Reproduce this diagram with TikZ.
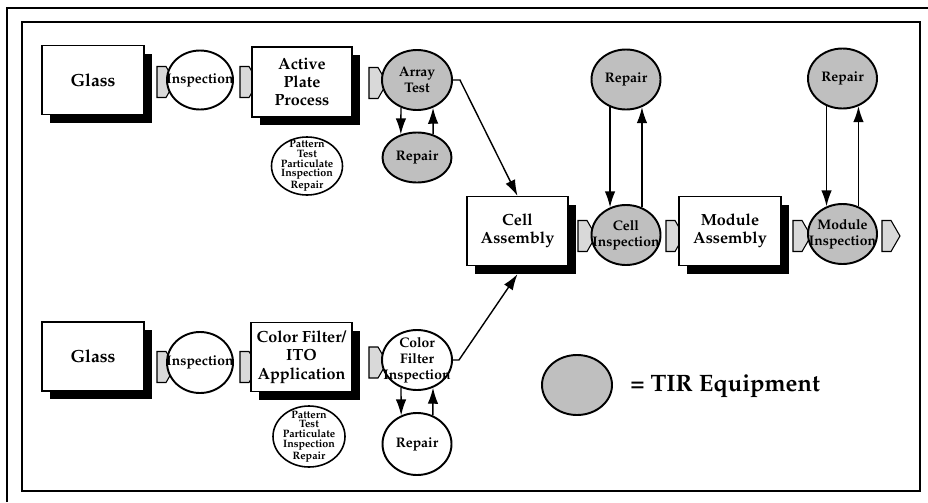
\documentclass[tikz,border=0pt]{standalone}
\usepackage[T1]{fontenc}
\renewcommand{\rmdefault}{ppl}
\usetikzlibrary{shapes.geometric,shapes.symbols,shadows,arrows.meta}
\tikzstyle{box}=[rectangle,draw,fill=white,line width=0.7pt,minimum width=2.04cm,minimum height=1.38cm,inner sep=0pt,align=center,font=\fontsize{9.2}{10.4}\selectfont\bfseries,drop shadow={shadow xshift=0.16cm,shadow yshift=-0.16cm,fill=black,opacity=1}]
\tikzstyle{tir}=[ellipse,draw,line width=1.1pt,fill=gray!50,minimum width=1.38cm,minimum height=1.20cm,inner sep=0pt]
\tikzstyle{plain}=[ellipse,draw,line width=1.1pt,fill=white,minimum width=1.38cm,minimum height=1.20cm,inner sep=0pt]
\tikzstyle{chevron}=[signal,signal to=east,signal pointer angle=120,draw,fill=gray!30,line width=0.6pt,minimum width=0.36cm,minimum height=0.62cm,inner sep=0pt]
\tikzstyle{etext}=[font=\fontsize{7.9}{9}\selectfont\bfseries,align=center,inner sep=0pt]
\tikzstyle{ttext}=[font=\fontsize{6.1}{5.5}\selectfont\bfseries,align=center,inner sep=0pt]
\tikzstyle{edge}=[draw,line width=0.8pt,-{Latex[length=3.2mm,width=2.1mm]}]

\begin{document}
\begin{tikzpicture}
        \useasboundingbox (0,0) rectangle (18.56,-10.04);
        % frames
        \draw[line width=0.8pt] (0.14,-10.04) -- (0.14,-0.16) -- (18.56,-0.16);
        \draw[line width=0.8pt] (0.44,-0.44) rectangle (18.40,-9.82);
        % active plate line
        \node[box,font=\fontsize{10}{11}\selectfont\bfseries] (g1) at (1.86,-1.60) {Glass};
        \node[chevron] (c1) at (3.23,-1.64) {};
        \node[plain,minimum width=1.32cm,minimum height=1.18cm,label={[etext]center:Inspection}] (i1) at (4.00,-1.60) {};
        \node[chevron] (c2) at (4.89,-1.64) {};
        \node[box,minimum width=2.00cm,minimum height=1.40cm] (p1) at (6.04,-1.64) {Active\\Plate\\Process};
        \node[plain,line width=0.9pt,minimum width=1.42cm,minimum height=1.16cm,label={[ttext]center:Pattern\\Test\\Particulate\\Inspection\\Repair}] (t1) at (6.14,-3.32) {};
        \node[chevron] (c3) at (7.47,-1.66) {};
        \node[tir,minimum width=1.40cm,label={[etext]center:Array\\Test}] (a1) at (8.34,-1.60) {};
        \node[tir,minimum height=1.00cm,label={[etext]center:Repair}] (r1) at (8.34,-3.15) {};
        % color filter line
        \node[box,font=\fontsize{10}{11}\selectfont\bfseries] (g2) at (1.86,-7.13) {Glass};
        \node[chevron] (c8) at (3.23,-7.34) {};
        \node[plain,minimum width=1.32cm,minimum height=1.22cm,label={[etext]center:Inspection}] (i2) at (4.00,-7.25) {};
        \node[chevron] (c9) at (4.89,-7.34) {};
        \node[box,minimum width=2.02cm] (p2) at (6.03,-7.14) {Color Filter/\\ITO\\Application};
        \node[plain,line width=0.9pt,minimum width=1.44cm,minimum height=1.22cm,label={[ttext]center:Pattern\\Test\\Particulate\\Inspection\\Repair}] (t2) at (6.18,-8.73) {};
        \node[chevron] (c10) at (7.47,-7.25) {};
        \node[plain,minimum width=1.40cm,label={[etext]center:Color\\Filter\\Inspection}] (f1) at (8.34,-7.20) {};
        \node[plain,minimum height=1.24cm,label={[etext]center:Repair}] (r2) at (8.34,-8.88) {};
        % assembly line
        \node[box,minimum width=2.02cm] (ca) at (10.35,-4.62) {Cell\\Assembly};
        \node[chevron] (c4) at (11.65,-4.72) {};
        \node[tir,label={[etext]center:Cell\\Inspection}] (ci) at (12.52,-4.70) {};
        \node[tir,label={[etext]center:Repair}] (r3) at (12.52,-1.59) {};
        \node[chevron] (c5) at (13.41,-4.72) {};
        \node[box] (ma) at (14.60,-4.62) {Module\\Assembly};
        \node[chevron] (c6) at (15.95,-4.72) {};
        \node[tir,label={[etext]center:Module\\Inspection}] (mi) at (16.85,-4.68) {};
        \node[tir,label={[etext]center:Repair}] (r4) at (16.85,-1.57) {};
        \node[chevron] (c7) at (17.73,-4.72) {};
        % legend
        \node[tir,minimum width=1.40cm] (lg) at (11.54,-7.70) {};
        \node[anchor=west,inner sep=0pt,font=\fontsize{13.5}{16}\selectfont\bfseries] (lgt) at (12.60,-7.72) {= TIR Equipment};
        \path[edge] (a1.-120) -- (r1.125);
        \path[edge] (r1.55) -- (a1.-60);
        \path[edge] (f1.-120) -- (r2.119);
        \path[edge] (r2.61) -- (f1.-60);
        \path[edge] (r3.-120) -- (ci.120);
        \path[edge] (ci.60) -- (r3.-60);
        \path[edge] (r4.-120) -- (mi.120);
        \path[edge] (mi.60) -- (r4.-60);
        \path[edge] (a1.east) -- ++(0.14,0) -- (ca.north);
        \path[edge] (f1.east) -- ++(0.12,0) -- ([yshift=-0.16cm]ca.south);
    \end{tikzpicture}
\end{document}
